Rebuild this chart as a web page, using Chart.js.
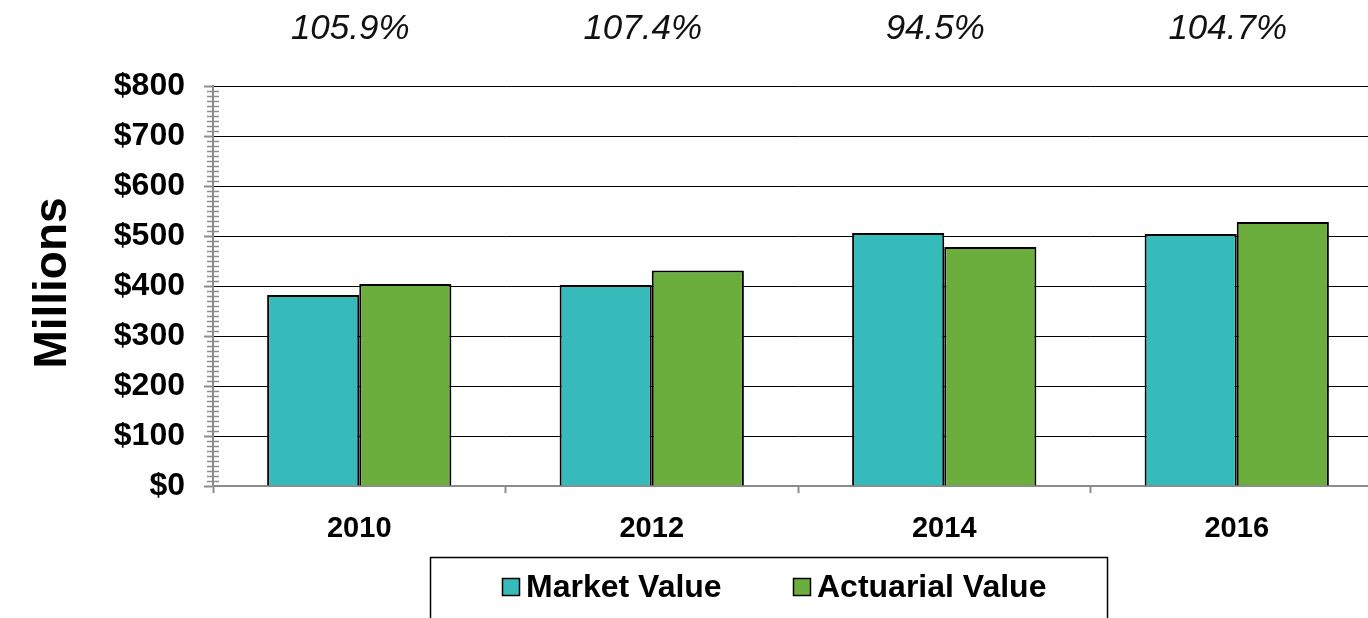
<!DOCTYPE html>
<html>
<head>
<title>Market vs Actuarial Value</title>
<script src="https://cdn.jsdelivr.net/npm/chart.js@4.4.0/dist/chart.umd.min.js"></script>
<style>
  html, body { margin: 0; padding: 0; overflow: hidden; background: #fff; }
  #wrap { width: 1400px; height: 618px; }
</style>
<script>
// chart data
const years = ['2010', '2012', '2014', '2016'];
const marketValue = [382, 402, 506, 504];
const actuarialValue = [404, 431, 478, 528];
const fundedRatio = ['105.9%', '107.4%', '94.5%', '104.7%'];
const yTicks = [0, 100, 200, 300, 400, 500, 600, 700, 800];

const FONT = '"Liberation Sans", Arial, sans-serif';

document.addEventListener('DOMContentLoaded', init);

// draws the extra bits excel had: minor ticks, ratio labels, axis title, legend box
const extras = {
  id: 'extras',
  afterDraw(chart) {
    const ctx = chart.ctx;
    const x = chart.scales.x;
    const y = chart.scales.y;
    const axisX = chart.chartArea.left;
    ctx.save();
    // minor ticks every 10
    ctx.strokeStyle = '#8c8c8c';
    ctx.lineWidth = 1.5;
    for (let v = 0; v <= 800; v += 10) {
      if (v % 100 === 0) continue;
      const py = Math.round(y.getPixelForValue(v)) + 0.5;
      ctx.beginPath();
      ctx.moveTo(axisX - 6, py);
      ctx.lineTo(axisX + 6, py);
      ctx.stroke();
    }
    // funded ratio labels over each year
    ctx.fillStyle = '#111';
    ctx.font = 'italic 35px ' + FONT;
    ctx.textAlign = 'center';
    ctx.textBaseline = 'middle';
    for (let i = 0; i < fundedRatio.length; i++) {
      ctx.fillText(fundedRatio[i], x.getPixelForValue(i) - 9, 29);
    }
    // y title
    ctx.save();
    ctx.translate(53, 283);
    ctx.rotate(-Math.PI / 2);
    ctx.font = 'bold 46px ' + FONT;
    ctx.fillStyle = '#000';
    ctx.fillText('Millions', 0, 0);
    ctx.restore();
    // legend
    ctx.strokeStyle = '#000';
    ctx.lineWidth = 1.5;
    ctx.strokeRect(430.5, 557.5, 677, 80);
    ctx.font = 'bold 32px ' + FONT;
    ctx.textAlign = 'left';
    const items = [
      { x: 502, ds: chart.data.datasets[0] },
      { x: 793, ds: chart.data.datasets[1] }
    ];
    items.forEach(it => {
      ctx.fillStyle = it.ds.backgroundColor;
      ctx.fillRect(it.x, 578, 18, 18);
      ctx.strokeStyle = '#000';
      ctx.lineWidth = 1.5;
      ctx.strokeRect(it.x + 0.5, 578.5, 17, 17);
      ctx.fillStyle = '#000';
      ctx.fillText(it.ds.label, it.x + 24, 588);
    });
    ctx.restore();
  }
};

function init() {
  const ctx = document.getElementById('myChart').getContext('2d');
  new Chart(ctx, {
    type: 'bar',
    data: {
      labels: years,
      datasets: [{
        label: 'Market Value',
        data: marketValue,
        backgroundColor: '#36BABA',
        borderColor: '#000',
        borderWidth: 2,
        categoryPercentage: 0.63,
        barPercentage: 1.0
      }, {
        label: 'Actuarial Value',
        data: actuarialValue,
        backgroundColor: '#6CAE3D',
        borderColor: '#000',
        borderWidth: 2,
        categoryPercentage: 0.63,
        barPercentage: 1.0
      }]
    },
    options: {
      responsive: false,
      animation: false,
      layout: { padding: { top: 86, right: 17, left: 0, bottom: 0 } },
      plugins: {
        legend: { display: false },
        tooltip: { enabled: false }
      },
      scales: {
        x: {
          grid: {
            drawOnChartArea: false,
            drawTicks: true,
            tickLength: 7,
            tickColor: '#8c8c8c',
            tickWidth: 2
          },
          border: { color: '#8c8c8c', width: 2 },
          ticks: {
            color: '#000',
            font: { family: FONT, size: 29, weight: 'bold' },
            padding: 19
          },
          afterFit(scale) { scale.height = 132; }
        },
        y: {
          min: 0,
          max: 800,
          afterBuildTicks(scale) { scale.ticks = yTicks.map(v => ({ value: v })); },
          grid: {
            color: '#000',
            lineWidth: 1,
            drawTicks: true,
            tickLength: 9,
            tickColor: '#8c8c8c',
            tickWidth: 2
          },
          border: { color: '#8c8c8c', width: 2 },
          ticks: {
            color: '#000',
            font: { family: FONT, size: 32, weight: 'bold' },
            padding: 19,
            callback: v => '$' + v
          },
          afterFit(scale) { scale.width = 213; }
        }
      }
    },
    plugins: [extras]
  });
}
</script>
</head>
<body>
<div id="wrap">
  <canvas id="myChart" width="1400" height="618"></canvas>
</div>
</body>
</html>
